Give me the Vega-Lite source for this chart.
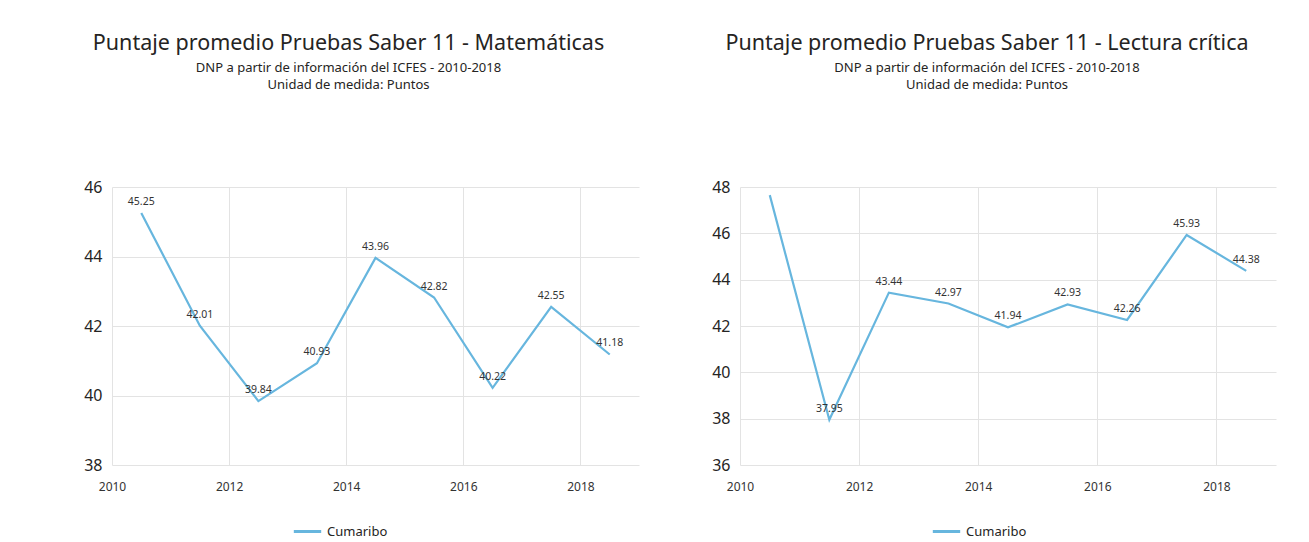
{
  "$schema": "https://vega.github.io/schema/vega-lite/v6.json",
  "background": "white",
  "padding": {"left": 83, "top": 32, "right": 20, "bottom": 5},
  "config": {
    "font": "Noto Sans",
    "view": {"stroke": null},
    "axis": {"domain": false, "ticks": false, "title": null, "gridColor": "#E3E3E3", "gridWidth": 1, "labelFlush": false},
    "axisX": {"labelFontSize": 12, "labelColor": "#333333", "labelPadding": 16},
    "axisY": {"labelFontSize": 16, "labelColor": "#252423", "labelPadding": 10},
    "title": {"fontSize": 21.5, "fontWeight": "normal", "color": "#252423", "subtitleFontSize": 13, "subtitleColor": "#252423", "subtitleLineHeight": 17, "subtitlePadding": 8, "anchor": "middle", "offset": 87},
    "legend": {"orient": "none", "title": null, "padding": 0, "symbolType": "stroke", "symbolStrokeWidth": 3, "symbolSize": 750, "labelFontSize": 13, "labelColor": "#252423"}
  },
  "resolve": {"scale": {"color": "independent"}},
  "spacing": 72,
  "hconcat": [
    {
      "width": 527,
      "height": 278,
      "title": {"text": "Puntaje promedio Pruebas Saber 11 - Matemáticas", "subtitle": ["DNP a partir de información del ICFES - 2010-2018", "Unidad de medida: Puntos"], "dx": -27},
      "data": {"values": [
        {"anio": 2010.5, "valor": 45.25, "serie": "Cumaribo"},
        {"anio": 2011.5, "valor": 42.01, "serie": "Cumaribo"},
        {"anio": 2012.5, "valor": 39.84, "serie": "Cumaribo"},
        {"anio": 2013.5, "valor": 40.93, "serie": "Cumaribo"},
        {"anio": 2014.5, "valor": 43.96, "serie": "Cumaribo"},
        {"anio": 2015.5, "valor": 42.82, "serie": "Cumaribo"},
        {"anio": 2016.5, "valor": 40.22, "serie": "Cumaribo"},
        {"anio": 2017.5, "valor": 42.55, "serie": "Cumaribo"},
        {"anio": 2018.5, "valor": 41.18, "serie": "Cumaribo"}
      ]},
      "encoding": {
        "x": {"field": "anio", "type": "quantitative", "scale": {"domain": [2010, 2019], "nice": false, "zero": false}, "axis": {"values": [2010, 2012, 2014, 2016, 2018], "format": "d"}},
        "y": {"field": "valor", "type": "quantitative", "scale": {"domain": [38, 46], "nice": false, "zero": false}, "axis": {"values": [38, 40, 42, 44, 46]}}
      },
      "layer": [
        {"mark": {"type": "line", "strokeWidth": 2.2}, "encoding": {"color": {"field": "serie", "type": "nominal", "scale": {"range": ["#67B6DE"]}, "legend": {"legendX": 180, "legendY": 329}}}},
        {"mark": {"type": "text", "baseline": "middle", "dy": -11, "fontSize": 10.5, "color": "#333333"}, "encoding": {"text": {"field": "valor", "type": "quantitative", "format": ".2f"}}}
      ]
    },
    {
      "width": 536,
      "height": 278,
      "title": {"text": "Puntaje promedio Pruebas Saber 11 - Lectura crítica", "subtitle": ["DNP a partir de información del ICFES - 2010-2018", "Unidad de medida: Puntos"], "dx": -21},
      "data": {"values": [
        {"anio": 2010.5, "valor": 47.65, "serie": "Cumaribo"},
        {"anio": 2011.5, "valor": 37.95, "serie": "Cumaribo"},
        {"anio": 2012.5, "valor": 43.44, "serie": "Cumaribo"},
        {"anio": 2013.5, "valor": 42.97, "serie": "Cumaribo"},
        {"anio": 2014.5, "valor": 41.94, "serie": "Cumaribo"},
        {"anio": 2015.5, "valor": 42.93, "serie": "Cumaribo"},
        {"anio": 2016.5, "valor": 42.26, "serie": "Cumaribo"},
        {"anio": 2017.5, "valor": 45.93, "serie": "Cumaribo"},
        {"anio": 2018.5, "valor": 44.38, "serie": "Cumaribo"}
      ]},
      "encoding": {
        "x": {"field": "anio", "type": "quantitative", "scale": {"domain": [2010, 2019], "nice": false, "zero": false}, "axis": {"values": [2010, 2012, 2014, 2016, 2018], "format": "d"}},
        "y": {"field": "valor", "type": "quantitative", "scale": {"domain": [36, 48], "nice": false, "zero": false}, "axis": {"values": [36, 38, 40, 42, 44, 46, 48]}}
      },
      "layer": [
        {"mark": {"type": "line", "strokeWidth": 2.2}, "encoding": {"color": {"field": "serie", "type": "nominal", "scale": {"range": ["#67B6DE"]}, "legend": {"legendX": 191, "legendY": 329}}}},
        {"transform": [{"filter": "datum.anio > 2011"}], "mark": {"type": "text", "baseline": "middle", "dy": -11, "fontSize": 10.5, "color": "#333333"}, "encoding": {"text": {"field": "valor", "type": "quantitative", "format": ".2f"}}}
      ]
    }
  ]
}
